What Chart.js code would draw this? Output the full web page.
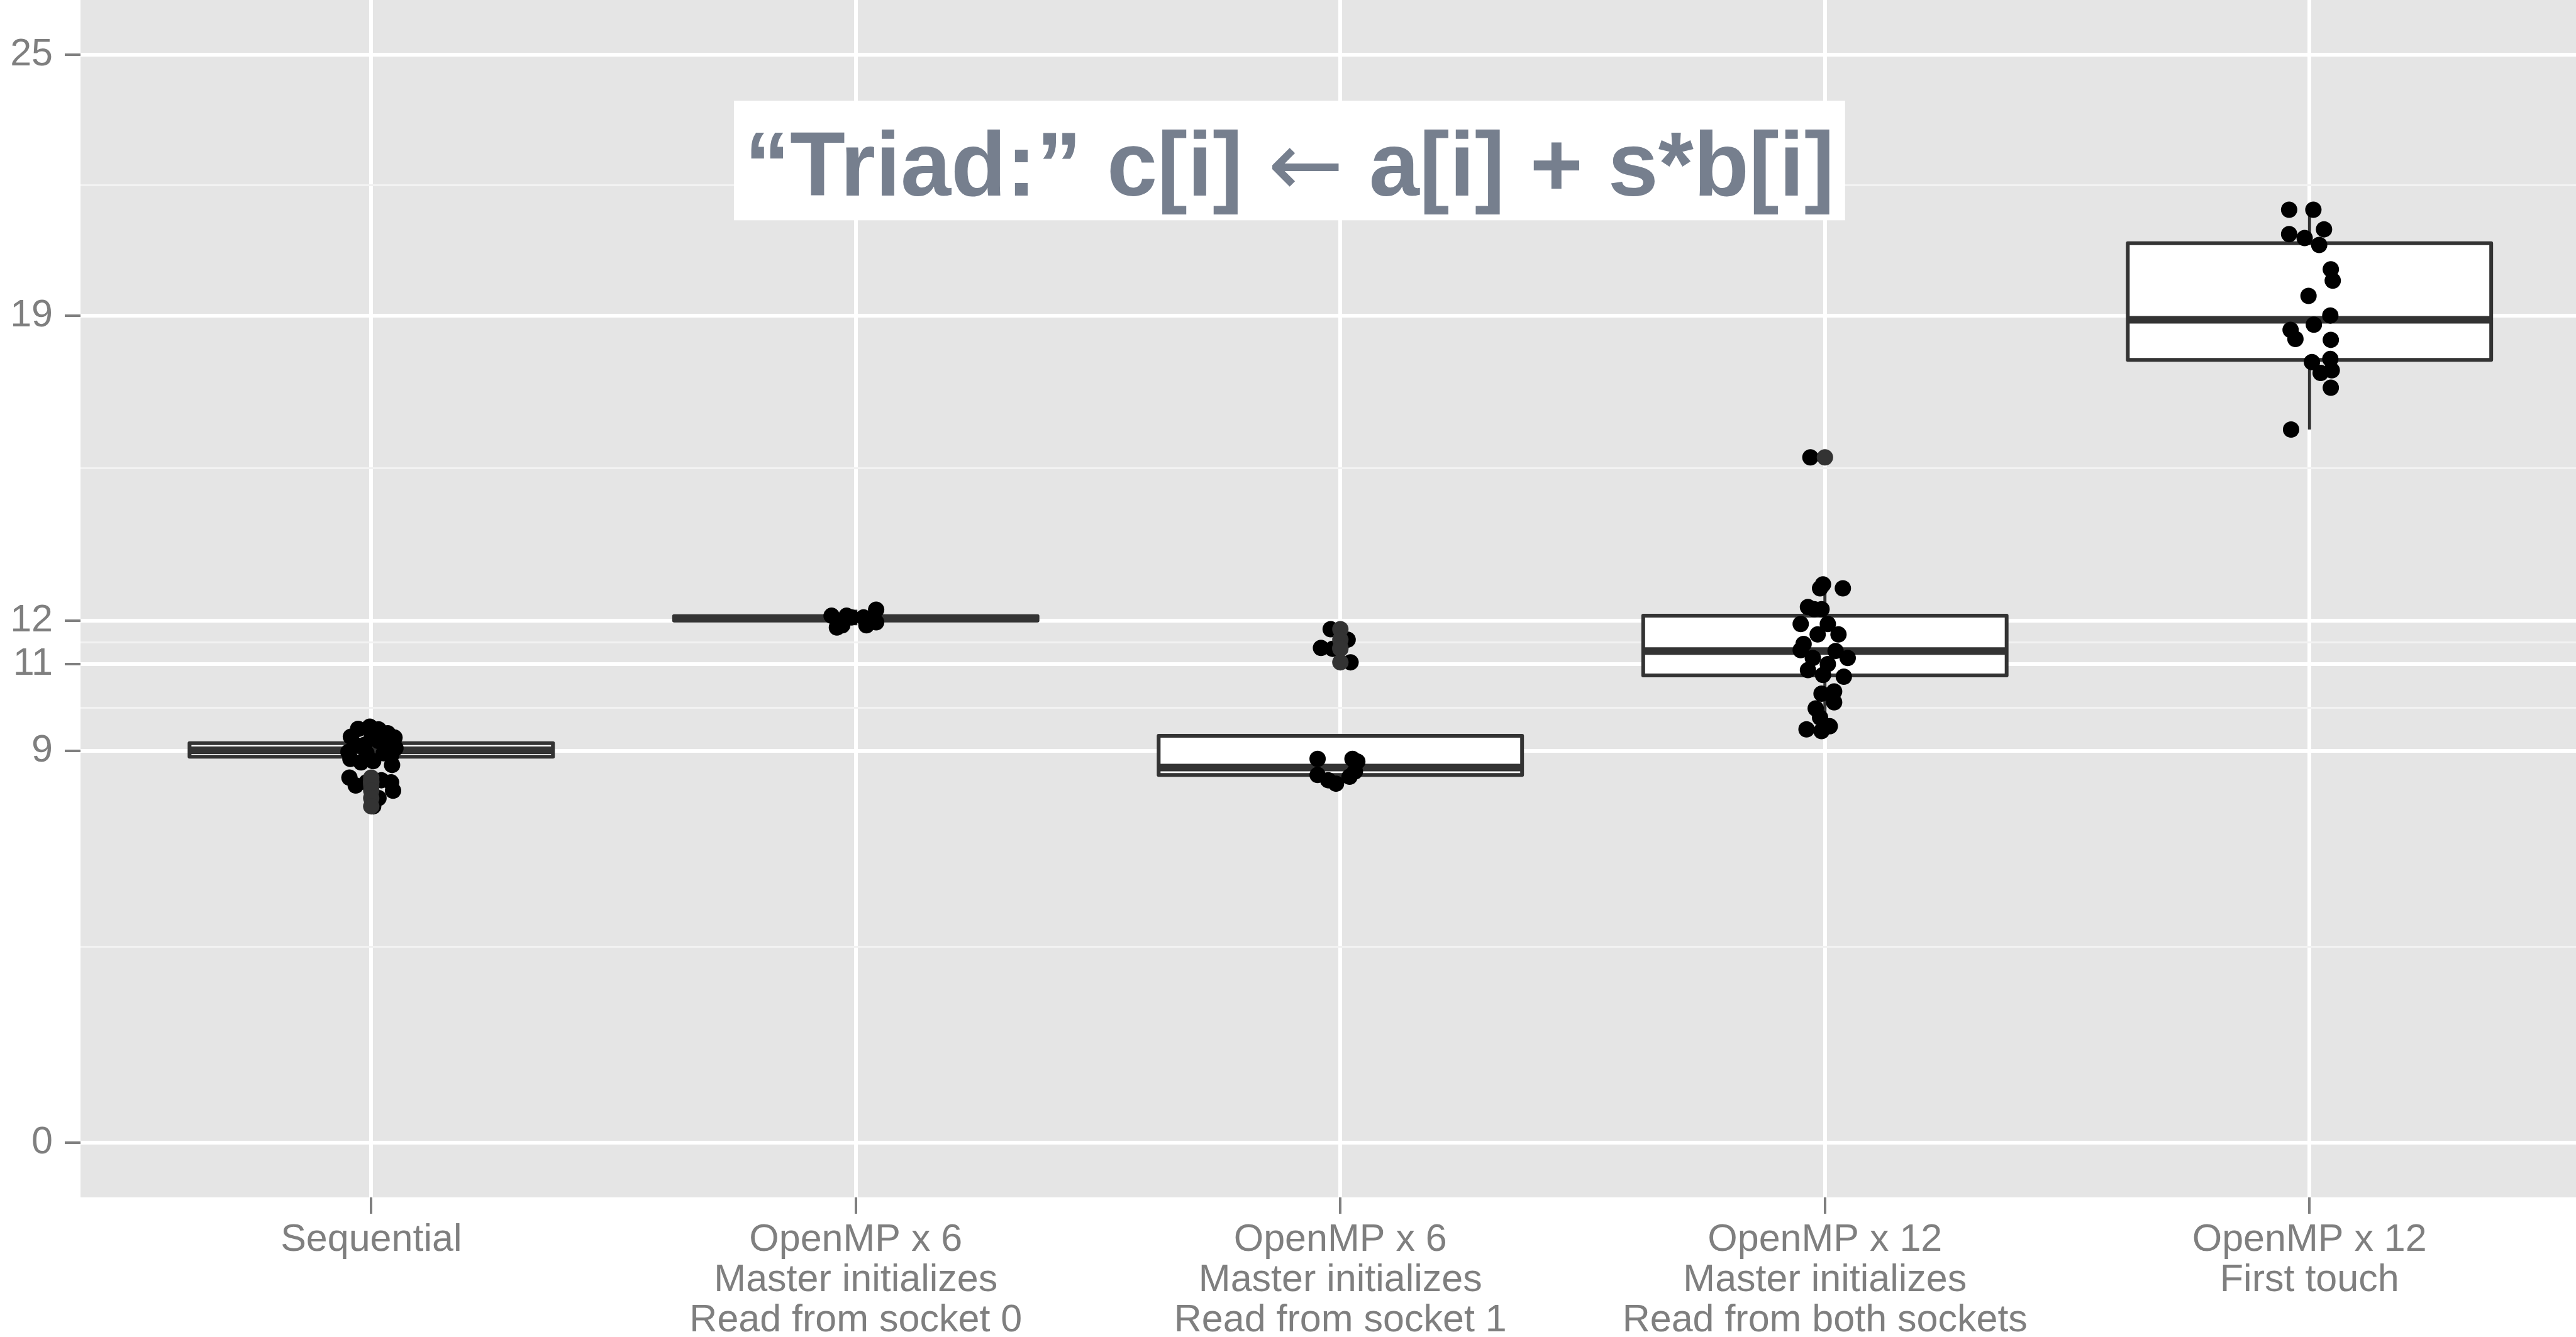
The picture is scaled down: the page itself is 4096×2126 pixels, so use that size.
<!DOCTYPE html>
<html>
<head>
<meta charset="utf-8">
<script src="https://cdn.jsdelivr.net/npm/chart.js@4.4.1/dist/chart.umd.min.js"></script>
<style>
  html, body { margin: 0; padding: 0; background: #ffffff; }
  #wrap { width: 4096px; height: 2126px; }
</style>
</head>
<body>
<div id="wrap"><canvas id="chart"></canvas></div>
<script>
// Categories, one box each (multi-line tick labels)
const categories = [
  ['Sequential'],
  ['OpenMP x 6', 'Master initializes', 'Read from socket 0'],
  ['OpenMP x 6', 'Master initializes', 'Read from socket 1'],
  ['OpenMP x 12', 'Master initializes', 'Read from both sockets'],
  ['OpenMP x 12', 'First touch']
];

// y axis breaks (labelled) and the minor grid lines between them
const yMajorTicks = [0, 9, 11, 12, 19, 25];
const yMinorTicks = [4.5, 10, 11.5, 15.5, 22];

// Box statistics per category
const whiskerLow  = [8.68, 11.89, 8.25, 9.46, 16.39];
const boxQ1       = [8.87, 12.00, 8.45, 10.74, 17.99];
const boxMedian   = [9.02, 12.05, 8.62, 11.30, 18.91];
const boxQ3       = [9.18, 12.10, 9.35, 12.11, 20.67];
const whiskerHigh = [9.56, 12.25, 8.82, 12.83, 21.44];

// Outliers drawn by the boxplot at the category centre
const outlierValues = [
  [8.39, 8.21, 8.28, 8.33, 8.28, 8.09, 7.92, 7.73],
  [],
  [11.80, 11.56, 11.37, 11.35, 11.04],
  [15.75],
  []
];

// Jittered observations: values and their horizontal jitter
const pointValues = [
  [9.51, 9.56, 9.50, 9.41, 9.31, 9.33, 8.98, 8.82, 9.07, 8.90, 8.77, 8.74, 9.14, 9.23,
   8.95, 9.14, 9.35, 9.14, 8.95, 8.68, 8.39, 8.21, 8.28, 8.33, 8.28, 8.09, 7.92, 7.73],
  [12.11, 11.84, 12.11, 11.89, 12.07, 12.07, 11.89, 12.25, 11.96],
  [11.80, 11.56, 11.37, 11.35, 11.04, 8.82, 8.45, 8.33, 8.25, 8.82, 8.76, 8.41, 8.53],
  [12.74, 12.83, 12.74, 12.31, 12.26, 12.26, 11.92, 11.92, 11.68, 11.68, 11.46, 11.32,
   11.30, 11.14, 11.14, 11.00, 10.86, 10.75, 10.71, 10.32, 10.37, 10.12, 9.98, 9.77,
   9.57, 9.50, 9.46, 15.75],
  [21.44, 21.44, 20.88, 20.79, 20.99, 20.63, 20.07, 19.81, 19.46, 19.01, 18.80, 18.68,
   18.47, 18.45, 17.94, 18.01, 17.75, 17.69, 17.35, 16.39]
];
const pointOffsets = [
  [-0.027, -0.003, 0.015, 0.034, 0.048, -0.042, -0.047, -0.043, 0.050, 0.041, 0.004, -0.021, -0.014, 0.015,
   0.026, -0.032, 0.001, 0.037, -0.010, 0.043, -0.045, -0.032, -0.010, 0.021, 0.041, 0.045, 0.015, 0.004],
  [-0.050, -0.039, -0.019, -0.028, -0.009, 0.016, 0.022, 0.042, 0.042],
  [-0.020, 0.015, -0.040, -0.016, 0.021, -0.047, -0.047, -0.025, -0.009, 0.025, 0.035, 0.019, 0.030],
  [-0.010, -0.004, 0.037, -0.035, -0.007, -0.022, -0.050, 0.006, -0.015, 0.028, -0.044, -0.050,
   0.022, -0.025, 0.047, 0.006, -0.035, -0.004, 0.039, -0.007, 0.019, 0.019, -0.019, -0.010,
   0.010, -0.038, -0.007, -0.030],
  [-0.042, 0.008, -0.042, -0.010, 0.030, 0.020, 0.044, 0.048, -0.002, 0.043, 0.009, -0.039,
   -0.029, 0.044, 0.005, 0.043, 0.046, 0.023, 0.044, -0.038]
];

// Formula label, split so the arrow can use a font that has a full-size glyph
const titleParts = ['\u201CTriad:\u201D c[i] ', '\u2190', ' a[i] + s*b[i]'];

// Build the scatter data from the arrays above
const outlierData = [];
outlierValues.forEach((vals, i) => {
    vals.forEach(v => outlierData.push({ x: i + 1, y: v }));
});
const pointData = [];
pointValues.forEach((vals, i) => {
    vals.forEach((v, j) => pointData.push({ x: i + 1 + pointOffsets[i][j], y: v }));
});

const isMajor = v => yMajorTicks.includes(v);

// Grey panel behind the grid
const panelPlugin = {
    id: 'panel',
    beforeDraw(chart) {
        const { ctx, chartArea: a } = chart;
        ctx.save();
        ctx.fillStyle = '#E5E5E5';
        ctx.fillRect(a.left, a.top, a.right - a.left, a.bottom - a.top);
        ctx.restore();
    }
};

// Boxes, medians and whiskers, drawn before the points
const boxplotPlugin = {
    id: 'boxplot',
    beforeDatasetsDraw(chart) {
        const { ctx, scales: { x, y } } = chart;
        ctx.save();
        ctx.strokeStyle = '#333333';
        categories.forEach((c, i) => {
            const cx = x.getPixelForValue(i + 1);
            const left = x.getPixelForValue(i + 1 - 0.375);
            const right = x.getPixelForValue(i + 1 + 0.375);
            const top = y.getPixelForValue(boxQ3[i]);
            const bottom = y.getPixelForValue(boxQ1[i]);

            // whiskers
            ctx.lineWidth = 5;
            ctx.lineCap = 'butt';
            ctx.beginPath();
            ctx.moveTo(cx, y.getPixelForValue(whiskerHigh[i]));
            ctx.lineTo(cx, top);
            ctx.moveTo(cx, bottom);
            ctx.lineTo(cx, y.getPixelForValue(whiskerLow[i]));
            ctx.stroke();

            // box
            ctx.fillStyle = '#FFFFFF';
            ctx.fillRect(left, top, right - left, bottom - top);
            ctx.lineWidth = 6;
            ctx.lineJoin = 'round';
            ctx.strokeRect(left, top, right - left, bottom - top);

            // median
            const m = y.getPixelForValue(boxMedian[i]);
            ctx.lineWidth = 12;
            ctx.beginPath();
            ctx.moveTo(left, m);
            ctx.lineTo(right, m);
            ctx.stroke();
        });
        ctx.restore();
    }
};

// The white label with the formula
const titlePlugin = {
    id: 'formulaLabel',
    afterDraw(chart) {
        const { ctx, scales: { x, y } } = chart;
        const cx = x.getPixelForValue(2.895);
        const cy = y.getPixelForValue(22.57);
        const fonts = [
            'bold 144px "Liberation Sans", Arial, sans-serif',
            '144px "DejaVu Sans", sans-serif',
            'bold 144px "Liberation Sans", Arial, sans-serif'
        ];
        ctx.save();
        const widths = titleParts.map((t, i) => {
            ctx.font = fonts[i];
            return ctx.measureText(t).width;
        });
        const w = widths.reduce((a, b) => a + b, 0);
        ctx.fillStyle = '#FFFFFF';
        ctx.fillRect(cx - w / 2 - 17, cy - 95, w + 34, 190);
        ctx.fillStyle = '#767F8E';
        ctx.textAlign = 'left';
        ctx.textBaseline = 'alphabetic';
        let px = cx - w / 2;
        titleParts.forEach((t, i) => {
            ctx.font = fonts[i];
            ctx.fillText(t, px, cy + 56);
            px += widths[i];
        });
        ctx.restore();
    }
};

// Keep the panel flush with the canvas edges
const noPadding = scale => {
    scale.paddingTop = 0;
    scale.paddingBottom = 0;
    scale.paddingLeft = 0;
    scale.paddingRight = 0;
};

const tickFont = { family: '"Liberation Sans", Arial, sans-serif', size: 61, lineHeight: 1.05 };

const ctx = document.getElementById('chart').getContext('2d');
const chart = new Chart(ctx, {
    type: 'scatter',
    data: {
        datasets: [
            {
                label: 'outliers',
                data: outlierData,
                backgroundColor: '#333333',
                borderWidth: 0,
                pointRadius: 13,
                pointHoverRadius: 13
            },
            {
                label: 'runs',
                data: pointData,
                backgroundColor: '#000000',
                borderWidth: 0,
                pointRadius: 13,
                pointHoverRadius: 13
            }
        ]
    },
    options: {
        responsive: true,
        maintainAspectRatio: false,
        animation: false,
        layout: { padding: 0, autoPadding: false },
        plugins: {
            legend: { display: false },
            tooltip: { enabled: false }
        },
        scales: {
            x: {
                type: 'linear',
                min: 0.4,
                max: 5.55,
                afterBuildTicks: scale => {
                    scale.ticks = categories.map((c, i) => ({ value: i + 1 }));
                },
                afterFit: scale => {
                    scale.height = 222;
                    noPadding(scale);
                },
                border: { display: false },
                grid: {
                    color: '#FFFFFF',
                    lineWidth: 6,
                    tickColor: '#7F7F7F',
                    tickLength: 26,
                    tickWidth: 4
                },
                ticks: {
                    autoSkip: false,
                    maxRotation: 0,
                    padding: 10,
                    color: '#7F7F7F',
                    font: tickFont,
                    callback: value => categories[value - 1]
                }
            },
            y: {
                type: 'linear',
                min: -1.257,
                max: 26.26,
                afterBuildTicks: scale => {
                    scale.ticks = yMajorTicks.concat(yMinorTicks)
                        .sort((a, b) => a - b)
                        .map(v => ({ value: v }));
                },
                afterFit: scale => {
                    scale.width = 128;
                    noPadding(scale);
                },
                border: { display: false },
                grid: {
                    color: c => isMajor(c.tick.value) ? '#FFFFFF' : '#F2F2F2',
                    lineWidth: c => isMajor(c.tick.value) ? 6 : 3,
                    tickColor: c => isMajor(c.tick.value) ? '#7F7F7F' : 'rgba(0,0,0,0)',
                    tickLength: 25,
                    tickWidth: 4
                },
                ticks: {
                    autoSkip: false,
                    padding: 19,
                    color: '#7F7F7F',
                    font: tickFont,
                    callback: value => isMajor(value) ? String(value) : ''
                }
            }
        }
    },
    plugins: [panelPlugin, boxplotPlugin, titlePlugin]
});
</script>
</body>
</html>
